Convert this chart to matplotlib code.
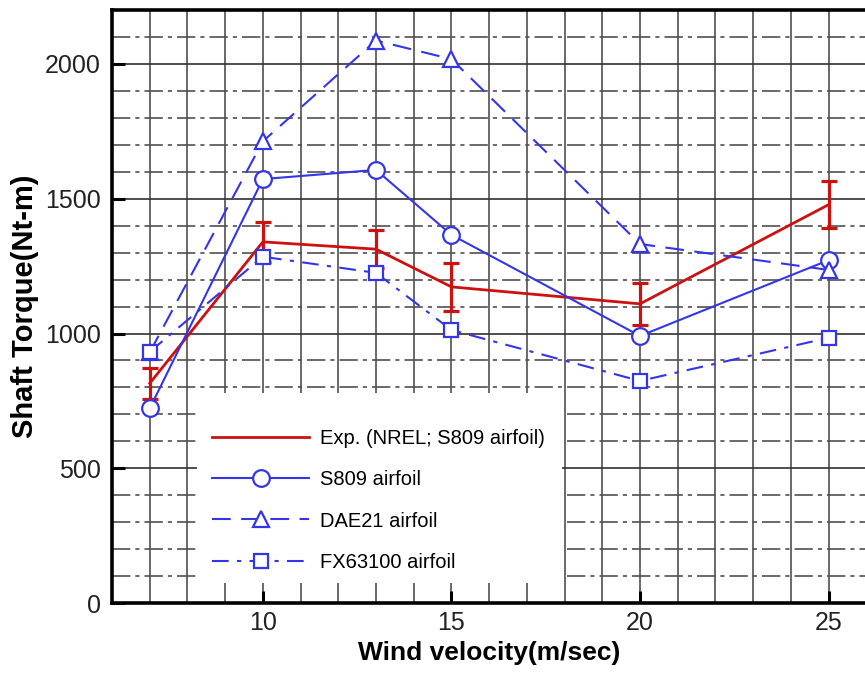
import matplotlib
matplotlib.use("Agg")
import matplotlib.pyplot as plt
from matplotlib.patches import Rectangle
from matplotlib.ticker import MultipleLocator

# wind speeds (m/s)
wind = [7, 10, 13, 15, 20, 25]

# shaft torque (Nt-m)
exp_torque = [815, 1340, 1313, 1173, 1110, 1478]
exp_err = [57, 74, 71, 90, 78, 88]
s809 = [722, 1573, 1607, 1366, 991, 1272]
dae21 = [930, 1713, 2087, 2018, 1332, 1236]
fx63100 = [932, 1285, 1225, 1013, 824, 984]

xticks = [10, 15, 20, 25]
yticks = [0, 500, 1000, 1500, 2000]

red = "#cc1111"
blue = "#3535e8"

plt.rcParams["font.family"] = ["Liberation Sans", "DejaVu Sans"]

fig = plt.figure(figsize=(8.65, 6.73), dpi=100)
ax = fig.add_axes([0.1295, 0.104, 0.872, 0.881])

ax.set_xlim(6, 26)
ax.set_ylim(0, 2200)

# grid: vertical every 1, horizontal solid at 500s, dash-dot at 100s
for xv in range(7, 26):
    ax.axvline(xv, color="#505050", lw=1.2, zorder=0.5)
for yv in range(100, 2200, 100):
    if yv % 500 == 0:
        ax.axhline(yv, color="#303030", lw=1.2, zorder=0.5)
    else:
        ax.axhline(yv, color="#505050", lw=1.2, zorder=0.5,
                   linestyle=(0, (11, 3, 2.5, 3)))

# white block behind the legend
ax.add_patch(Rectangle((0.113, 0.034), 0.484, 0.32, transform=ax.transAxes,
                       facecolor="white", edgecolor="none", zorder=1))

ax.errorbar(wind, exp_torque, yerr=exp_err, fmt="none", ecolor=red,
            elinewidth=2.3, capsize=6, capthick=2.3, zorder=3)
l_exp, = ax.plot(wind, exp_torque, color=red, lw=2.0, zorder=3,
                 label="Exp. (NREL; S809 airfoil)")
l_s809, = ax.plot(wind, s809, color=blue, lw=1.5, marker="o", ms=12,
                  mfc="white", mec=blue, mew=1.6, zorder=4, label="S809 airfoil")
l_dae, = ax.plot(wind, dae21, color=blue, lw=1.5, marker="^", ms=12,
                 mfc="white", mec=blue, mew=1.6, linestyle=(0, (9, 5)),
                 zorder=4, label="DAE21 airfoil")
l_fx, = ax.plot(wind, fx63100, color=blue, lw=1.5, marker="s", ms=10,
                mfc="white", mec=blue, mew=1.6, linestyle=(0, (8, 4, 2, 4)),
                zorder=5, label="FX63100 airfoil")

ax.legend(handles=[l_exp, l_s809, l_dae, l_fx], loc="center left",
          bbox_to_anchor=(0.1195, 0.173), frameon=False, fontsize=14.5,
          borderpad=0, handlelength=4.8, handletextpad=0.55, labelspacing=1.1)

ax.set_xticks(xticks)
ax.set_yticks(yticks)
ax.xaxis.set_minor_locator(MultipleLocator(1))
ax.tick_params(which="major", direction="in", length=9, width=2.2,
               labelsize=18, colors="black")
ax.tick_params(axis="x", which="major", pad=6)
ax.tick_params(axis="y", which="major", pad=8)
ax.tick_params(which="minor", length=0)
for lbl in ax.get_xticklabels() + ax.get_yticklabels():
    lbl.set_color("#222222")

for side in ["left", "bottom", "top", "right"]:
    ax.spines[side].set_linewidth(2.6)
    ax.spines[side].set_zorder(6)

ax.set_xlabel("Wind velocity(m/sec)", fontsize=19, fontweight="bold", labelpad=4)
ax.set_ylabel("Shaft Torque(Nt-m)", fontsize=21, fontweight="bold", labelpad=4)

fig.savefig("out.png", dpi=100)
